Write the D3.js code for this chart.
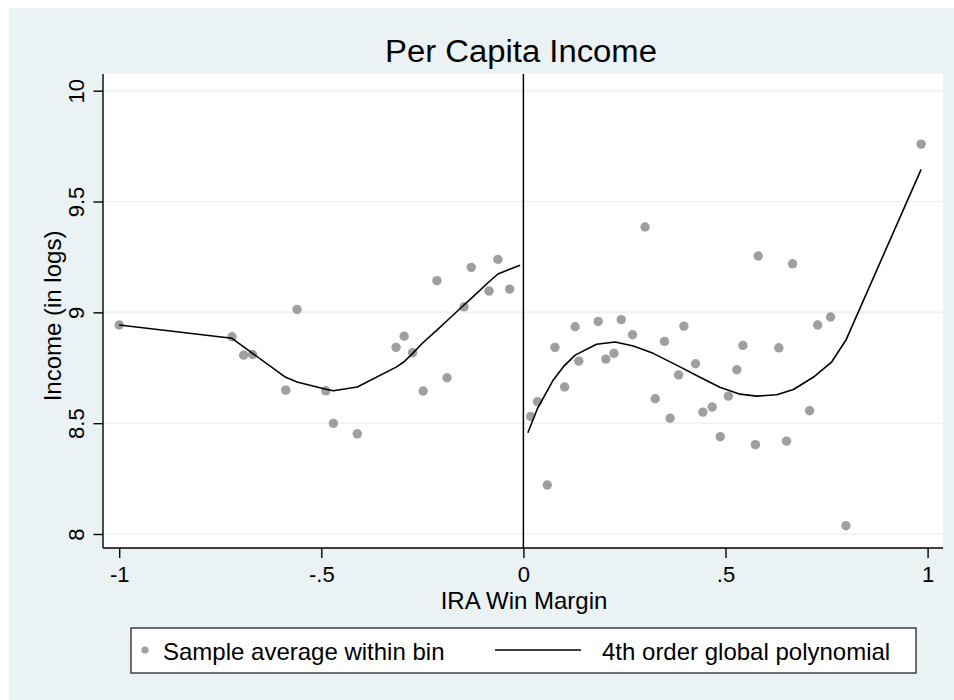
<!DOCTYPE html>
<html>
<head>
<meta charset="utf-8">
<script src="https://cdn.jsdelivr.net/npm/d3@7"></script>
<style>
  html, body { margin: 0; padding: 0; background: #ffffff; }
  svg { display: block; }
  text { font-family: Helvetica, Arial, "Liberation Sans", sans-serif; fill: #000; }
</style>
</head>
<body>
<script>
// Binned sample averages, left of the cutoff (IRA lost)
const binLeftX = [-1.0, -0.721, -0.692, -0.670, -0.588, -0.560, -0.489, -0.470, -0.411, -0.315,
                  -0.295, -0.274, -0.248, -0.214, -0.189, -0.147, -0.129, -0.085, -0.063, -0.034];
const binLeftY = [8.943, 8.890, 8.807, 8.810, 8.649, 9.013, 8.646, 8.499, 8.452, 8.842,
                  8.892, 8.818, 8.645, 9.143, 8.705, 9.025, 9.203, 9.096, 9.239, 9.105];

// Binned sample averages, right of the cutoff (IRA won)
const binRightX = [0.018, 0.035, 0.059, 0.078, 0.102, 0.128, 0.137, 0.185, 0.204, 0.224,
                   0.242, 0.270, 0.301, 0.326, 0.349, 0.363, 0.384, 0.397, 0.426, 0.444,
                   0.467, 0.487, 0.507, 0.528, 0.543, 0.574, 0.581, 0.632, 0.651, 0.666,
                   0.708, 0.728, 0.760, 0.798, 0.984];
const binRightY = [8.530, 8.597, 8.221, 8.842, 8.663, 8.935, 8.780, 8.959, 8.789, 8.815,
                   8.967, 8.899, 9.385, 8.610, 8.869, 8.522, 8.718, 8.938, 8.768, 8.550,
                   8.573, 8.439, 8.622, 8.741, 8.851, 8.403, 9.254, 8.840, 8.419, 9.219,
                   8.556, 8.943, 8.979, 8.037, 9.759];

// Fitted values of the 4th order polynomial on each side
const fitLeftX = [-1.0, -0.721, -0.692, -0.670, -0.588, -0.560, -0.489, -0.470, -0.411, -0.315,
                  -0.295, -0.274, -0.248, -0.214, -0.189, -0.147, -0.129, -0.085, -0.063, -0.034, -0.008];
const fitLeftY = [8.943, 8.883, 8.844, 8.815, 8.707, 8.686, 8.653, 8.646, 8.663, 8.753,
                  8.777, 8.815, 8.864, 8.920, 8.962, 9.033, 9.063, 9.138, 9.173, 9.194, 9.213];
const fitRightX = [0.011, 0.035, 0.074, 0.099, 0.128, 0.181, 0.227, 0.272, 0.321, 0.379,
                   0.437, 0.486, 0.536, 0.577, 0.627, 0.668, 0.717, 0.763, 0.798, 0.984];
const fitRightY = [8.457, 8.567, 8.695, 8.755, 8.807, 8.856, 8.866, 8.848, 8.815, 8.762,
                   8.707, 8.662, 8.631, 8.622, 8.628, 8.652, 8.707, 8.777, 8.875, 9.645];

// Axis ticks and labels
const xTicks = [-1, -0.5, 0, 0.5, 1];
const xTickLabels = ["-1", "-.5", "0", ".5", "1"];
const yTicks = [8, 8.5, 9, 9.5, 10];
const yTickLabels = ["8", "8.5", "9", "9.5", "10"];

const titleText = "Per Capita Income";
const xTitle = "IRA Win Margin";
const yTitle = "Income (in logs)";
const legendLabels = ["Sample average within bin", "4th order global polynomial"];

// ---- layout ----
const W = 954, H = 700;
const region = { left: 103, right: 943, top: 74, bottom: 548 };
const bgColor = "#eaf2f3";
const markerColor = "#9f9f9f";

const svg = d3.select("body").append("svg")
  .attr("width", W).attr("height", H);

// graph region background
svg.append("rect")
  .attr("x", 9).attr("y", 8).attr("width", W - 9).attr("height", H - 8)
  .attr("fill", bgColor);

// plot region
svg.append("rect")
  .attr("x", region.left).attr("y", region.top)
  .attr("width", region.right - region.left).attr("height", region.bottom - region.top)
  .attr("fill", "#ffffff");

const x = d3.scaleLinear().domain([-1, 1]).range([119.2, 927.6]);
const y = d3.scaleLinear().domain([8, 10]).range([534, 90.7]);

// horizontal grid lines
svg.append("g").selectAll("line").data(yTicks).join("line")
  .attr("x1", region.left).attr("x2", region.right)
  .attr("y1", d => y(d)).attr("y2", d => y(d))
  .attr("stroke", bgColor).attr("stroke-width", 1.6);

// y axis
const yAxis = svg.append("g")
  .attr("transform", `translate(${region.left},0)`)
  .call(d3.axisLeft(y).tickValues(yTicks).tickSize(9.5).tickFormat((d, i) => yTickLabels[i]));
yAxis.select(".domain").attr("d", `M0,${region.top}V${region.bottom}`)
  .attr("stroke", "#000").attr("stroke-width", 1.4);
yAxis.selectAll(".tick line").attr("stroke", "#000").attr("stroke-width", 1.4);
yAxis.selectAll(".tick text")
  .attr("x", null).attr("dy", null)
  .attr("transform", "translate(-19.5,0) rotate(-90)")
  .attr("text-anchor", "middle")
  .style("font-size", "22px")
  .style("font-family", "Helvetica, Arial, 'Liberation Sans', sans-serif")
  .attr("fill", "#000");

// x axis
const xAxis = svg.append("g")
  .attr("transform", `translate(0,${region.bottom})`)
  .call(d3.axisBottom(x).tickValues(xTicks).tickSize(10).tickFormat((d, i) => xTickLabels[i]));
xAxis.select(".domain").attr("d", `M${region.left},0H${region.right}`)
  .attr("stroke", "#000").attr("stroke-width", 1.4);
xAxis.selectAll(".tick line").attr("stroke", "#000").attr("stroke-width", 1.4);
xAxis.selectAll(".tick text")
  .attr("y", 34).attr("dy", null)
  .style("font-size", "22px")
  .style("font-family", "Helvetica, Arial, 'Liberation Sans', sans-serif")
  .attr("fill", "#000");

// cutoff line at zero
svg.append("line")
  .attr("x1", x(0)).attr("x2", x(0))
  .attr("y1", region.top).attr("y2", region.bottom)
  .attr("stroke", "#000").attr("stroke-width", 1.5);

// binned averages
const bins = binLeftX.map((v, i) => [v, binLeftY[i]])
  .concat(binRightX.map((v, i) => [v, binRightY[i]]));
svg.append("g").selectAll("circle").data(bins).join("circle")
  .attr("cx", d => x(d[0])).attr("cy", d => y(d[1]))
  .attr("r", 4.7).attr("fill", markerColor);

// polynomial fits
const line = d3.line().x(d => x(d[0])).y(d => y(d[1]));
const fits = [
  fitLeftX.map((v, i) => [v, fitLeftY[i]]),
  fitRightX.map((v, i) => [v, fitRightY[i]])
];
svg.append("g").selectAll("path").data(fits).join("path")
  .attr("d", line)
  .attr("fill", "none").attr("stroke", "#000").attr("stroke-width", 1.6)
  .attr("stroke-linejoin", "round");

// title and axis titles
svg.append("text")
  .attr("x", 521).attr("y", 61.5).attr("text-anchor", "middle")
  .attr("textLength", 272).attr("lengthAdjust", "spacingAndGlyphs")
  .style("font-size", "31px").text(titleText);

svg.append("text")
  .attr("x", 524).attr("y", 609).attr("text-anchor", "middle")
  .style("font-size", "24px").text(xTitle);

svg.append("text")
  .attr("transform", "translate(61,316) rotate(-90)")
  .attr("text-anchor", "middle")
  .style("font-size", "24px").text(yTitle);

// legend
const legend = svg.append("g");
legend.append("rect")
  .attr("x", 131).attr("y", 628).attr("width", 785).attr("height", 45)
  .attr("fill", "#fff").attr("stroke", "#333").attr("stroke-width", 1.4);
legend.append("circle")
  .attr("cx", 145).attr("cy", 650).attr("r", 3.6).attr("fill", markerColor);
legend.append("text")
  .attr("x", 163).attr("y", 659.5)
  .style("font-size", "24px").text(legendLabels[0]);
legend.append("line")
  .attr("x1", 495).attr("x2", 581).attr("y1", 650).attr("y2", 650)
  .attr("stroke", "#000").attr("stroke-width", 1.5);
legend.append("text")
  .attr("x", 602).attr("y", 659.5)
  .style("font-size", "24px").text(legendLabels[1]);
</script>
</body>
</html>
